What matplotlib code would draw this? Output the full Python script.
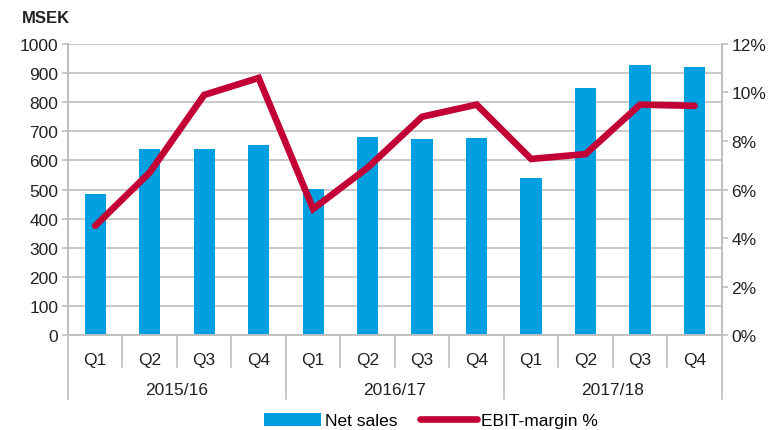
import matplotlib
matplotlib.use("Agg")
import matplotlib.pyplot as plt
import matplotlib.transforms as mtransforms

plt.rcParams['font.family'] = ['Liberation Sans', 'DejaVu Sans']

quarters = ['Q1', 'Q2', 'Q3', 'Q4'] * 3
years = ['2015/16', '2016/17', '2017/18']
net_sales = [485, 639, 639, 654, 502, 680, 672, 677, 538, 848, 928, 921]
ebit_margin = [4.5, 6.7, 9.9, 10.6, 5.2, 6.9, 9.0, 9.5, 7.26, 7.46, 9.5, 9.45]

blue = '#009FDF'
red = '#C20036'
grey = '#BFBFBF'
fs = 12.5

fig = plt.figure(figsize=(7.72, 4.31), dpi=100)
ax = fig.add_axes([0.088, 0.2204, 0.847, 0.6752])
ax2 = ax.twinx()

x = list(range(len(net_sales)))
ax.bar(x, net_sales, width=0.39, color=blue, zorder=2, label='Net sales')
ax2.plot(x, ebit_margin, color=red, lw=4.8, solid_capstyle='round',
         solid_joinstyle='miter', label='EBIT-margin %', zorder=3)

ax.set_xlim(-0.5, 11.5)
ax.set_ylim(0, 1000)
ax.set_yticks(range(0, 1001, 100))
ax2.set_ylim(0, 12)
ax2.set_yticks(range(0, 13, 2))
ax2.set_yticklabels([f'{v}%' for v in range(0, 13, 2)])

ax.yaxis.grid(True, color=grey, lw=1.2, zorder=0)
ax.set_axisbelow(True)
for a in (ax, ax2):
    for s in a.spines.values():
        s.set_color(grey)
        s.set_linewidth(1.2)
    a.spines['top'].set_visible(False)
    a.tick_params(axis='y', colors=grey, labelcolor='#222222', labelsize=fs,
                  length=4, width=1.2, pad=3)

# category labels
ax.set_xticks(x)
ax.set_xticklabels(quarters, fontsize=fs, color='#222222')
ax.tick_params(axis='x', length=0, pad=12)

trans = mtransforms.blended_transform_factory(ax.transData, ax.transAxes)
for i in range(1, 12):
    if i % 4 == 0:
        continue
    ax.plot([i - 0.5, i - 0.5], [0, -0.11], transform=trans, color=grey,
            lw=1.2, clip_on=False)
for i in range(4):
    ax.plot([i * 4 - 0.5, i * 4 - 0.5], [0, -0.22], transform=trans,
            color=grey, lw=1.2, clip_on=False)
for i, yr in enumerate(years):
    ax.text(i * 4 + 1.5, -0.186, yr, transform=trans, ha='center',
            va='center', fontsize=fs, color='#222222')

fig.text(0.028, 0.958, 'MSEK', fontsize=12, fontweight='bold',
         color='#222222', va='center')

h1, l1 = ax.get_legend_handles_labels()
h2, l2 = ax2.get_legend_handles_labels()
fig.legend(h1 + h2, l1 + l2, loc='center', bbox_to_anchor=(0.558, 0.022),
           ncol=2, frameon=False, fontsize=fs, handlelength=3.3,
           handleheight=0.8, columnspacing=1.3, handletextpad=0.2)

fig.savefig('out.png', dpi=100)
